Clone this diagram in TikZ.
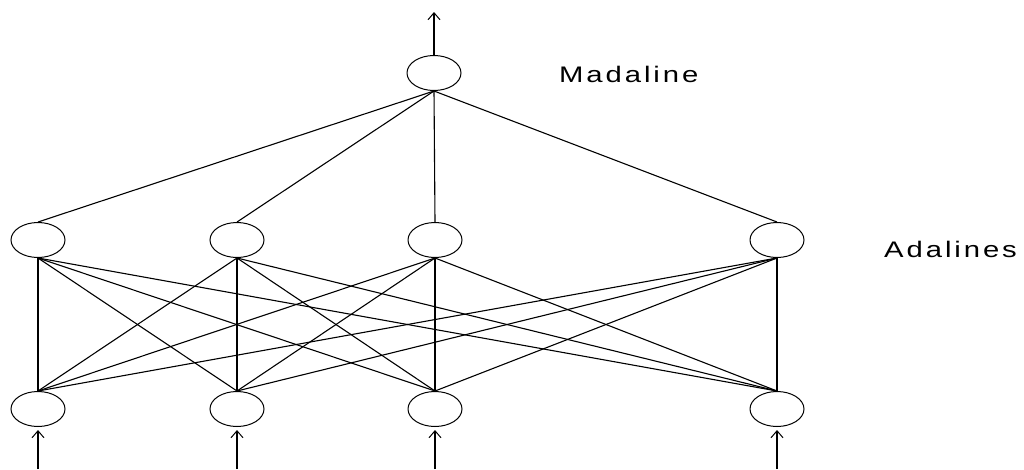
\documentclass[tikz,border=0pt]{standalone}
\usepackage{fontspec}
\setmainfont{Liberation Sans}
\usetikzlibrary{shapes.geometric,arrows.meta}
\newcommand{\widetext}[1]{\scalebox{1.3}[1]{\fontsize{22.5}{22.5}\selectfont\addfontfeature{LetterSpace=10}#1}}
\tikzset{
  neuron/.style={ellipse,draw,line width=1pt,minimum width=54pt,minimum height=35pt,inner sep=0pt},
  link/.style={line width=1.1pt},
  sig/.style={line width=1.2pt,-{Straight Barb[length=7pt,width=12pt,line width=1pt]}},
  lbl/.style={anchor=base west,inner sep=0pt}
}
\begin{document}
\begin{tikzpicture}[x=1pt,y=-1pt]
\useasboundingbox (0,0) rectangle (1024,469);
\node[neuron] (o) at (434,73) {};
\node[neuron] (h1) at (38,240) {};
\node[neuron] (h2) at (237,240) {};
\node[neuron] (h3) at (435,240) {};
\node[neuron] (h4) at (777,240) {};
\node[neuron] (i1) at (38,409) {};
\node[neuron] (i2) at (237,409) {};
\node[neuron] (i3) at (435,409) {};
\node[neuron] (i4) at (777,409) {};
\node[lbl] (tm) at (559,82) {\widetext{Madaline}};
\node[lbl] (ta) at (884,257) {\widetext{Adalines}};
\coordinate (out) at (434,12);
\coordinate (x1) at (38,469);
\coordinate (x2) at (237,469);
\coordinate (x3) at (435,469);
\coordinate (x4) at (777,469);
\draw[sig] (o.north) -- (out);
\foreach \k in {1,2,3,4}{
  \draw[sig,shorten >=3pt] (x\k) -- (i\k.south);
  \draw[link] (o.south) -- (h\k.north);
  \foreach \j in {1,2,3,4}{
    \draw[link] (h\k.south) -- (i\j.north);
  }
}
\end{tikzpicture}
\end{document}
